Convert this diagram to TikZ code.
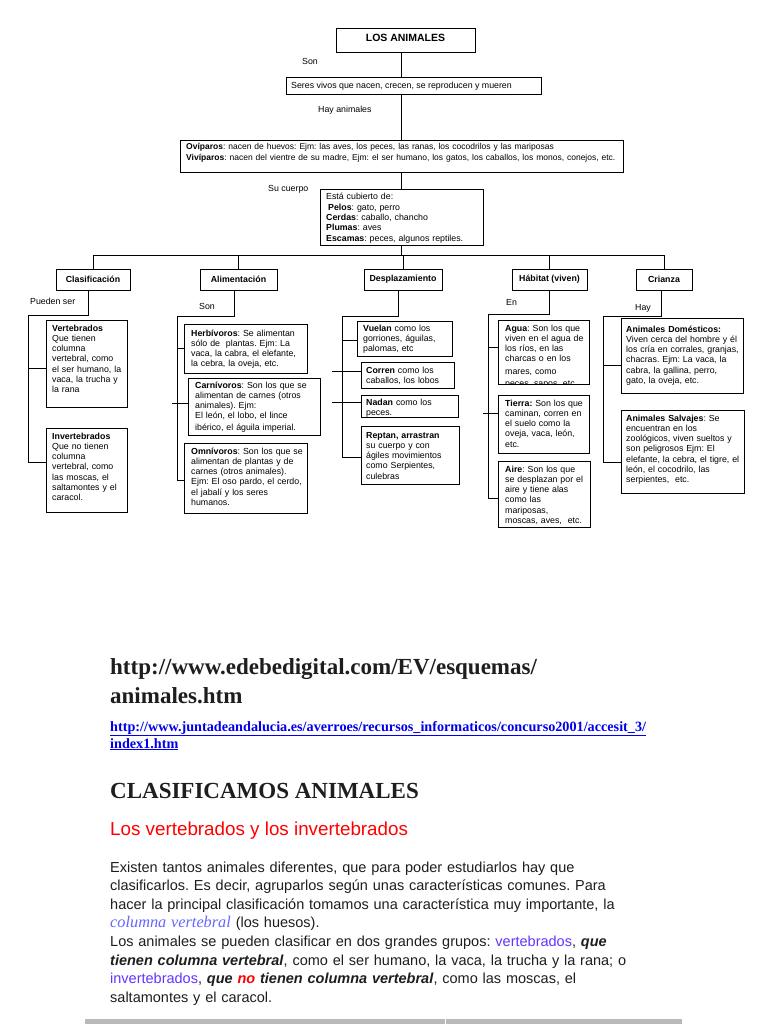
\documentclass[tikz,border=0pt]{standalone}
\usepackage{fontspec}
\setmainfont{Liberation Sans}
\newfontfamily\timesf{Liberation Serif}
\definecolor{linkblue}{RGB}{0,0,238}
\definecolor{vio}{RGB}{102,51,255}
\definecolor{colv}{RGB}{102,102,255}
\definecolor{txt}{RGB}{30,30,30}
\tikzset{
 frame/.style={draw=black, line width=0.8pt, inner sep=0pt, outer sep=0pt, anchor=north west},
 hdr/.style={font=\bfseries\fontsize{8.8}{10.3}\selectfont},
 btext/.style={anchor=base west, inner sep=0pt, text width=520pt, align=left, font=\fontsize{8.8}{10.3}\selectfont},
 lbl/.style={anchor=base west, inner sep=0pt, font=\fontsize{8.8}{10.3}\selectfont},
 wire/.style={line width=0.8pt, draw=black},
}
\newcommand\abox[8]{%
 \pgfmathsetmacro\bw{#4-#2}\pgfmathsetmacro\bh{#5-#3}%
 \node[frame, minimum width=\bw pt, minimum height=\bh pt] (#1) at (#2,#3) {};
 \node[btext] (#1t) at (#6,#7) {#8};}
\begin{document}
\frenchspacing
\begin{tikzpicture}[x=1pt,y=-1pt]
\useasboundingbox[fill=white] (0,0) rectangle (768,1024);
% ---- top chain
\node[frame, minimum width=139pt, minimum height=24pt] (title) at (336,28) {};
\node[anchor=base, inner sep=0pt, font=\bfseries\fontsize{10.5}{12}\selectfont] (titlet) at (405.5,42) {LOS ANIMALES};
\node[lbl] (son1) at (302,65) {Son};
\node[frame, minimum width=255pt, minimum height=17pt] (seres) at (286,77) {};
\node[lbl] (serest) at (291,88.5) {Seres vivos que nacen, crecen, se reproducen y mueren};
\node[lbl] (hay1) at (318,113) {Hay animales};
\abox{ovi}{180}{140}{623}{172}{186}{150}{\fontsize{8.5}{10.6}\selectfont\textbf{Ovíparos}: nacen de huevos: Ejm: las aves, los peces, las ranas, los cocodrilos y las mariposas\\\textbf{Vivíparos}: nacen del vientre de su madre, Ejm: el ser humano, los gatos, los caballos, los monos, conejos, etc.}
\node[lbl] (cuerpo) at (268,192) {Su cuerpo};
\abox{esta}{320}{189}{483}{245}{326}{200}{Está cubierto de:\\\hspace*{2pt}\textbf{Pelos}: gato, perro\\\textbf{Cerdas}: caballo, chancho\\\textbf{Plumas}: aves\\\textbf{Escamas}: peces, algunos reptiles.}
\coordinate (trunk) at (401,0);
\coordinate (bus) at (0,255);
\draw[wire] (title.south -| trunk) -- (seres.north -| trunk);
\draw[wire] (seres.south -| trunk) -- (ovi.north -| trunk);
\draw[wire] (ovi.south -| trunk) -- (esta.north -| trunk);
\draw[wire] (esta.south -| trunk) -- (bus -| trunk);
% ---- headers
\node[frame, hdr, minimum width=74pt, minimum height=21pt] (clas) at (56,269) {Clasificación};
\node[frame, hdr, minimum width=77pt, minimum height=21pt] (alim) at (200,269) {Alimentación};
\node[frame, hdr, minimum width=78pt, minimum height=21pt] (desp) at (364,269) {Desplazamiento};
\node[frame, hdr, minimum width=75pt, minimum height=21pt] (hab) at (512,269) {Hábitat (viven)};
\node[frame, hdr, minimum width=56pt, minimum height=21pt] (cri) at (636,269) {Crianza};
\draw[wire] (clas.north) -- (clas.north |- bus) -- (cri.north |- bus) -- (cri.north);
\foreach \n in {alim,desp,hab} \draw[wire] (\n.north) -- (\n.north |- bus);
% ---- labels
\node[lbl] (pueden) at (30,304) {Pueden ser};
\node[lbl] (son2) at (199,309) {Son};
\node[lbl] (en) at (506,305) {En};
\node[lbl] (hay2) at (635,310) {Hay};
% ---- Clasificacion
\abox{vert}{46}{320}{127}{407}{52}{331}{\textbf{Vertebrados}\\Que tienen\\columna\\vertebral, como\\el ser humano, la\\vaca, la trucha y\\la rana}
\abox{inv}{46}{428}{127}{512}{52}{439}{\textbf{Invertebrados}\\Que no tienen\\columna\\vertebral, como\\las moscas, el\\saltamontes y el\\caracol.}
\coordinate (clasx) at (88,0);
\coordinate (clasL) at (28,315);
\draw[wire] (clas.south -| clasx) |- (clasL) |- ([yshift=8pt]inv.west);
\draw[wire] ([yshift=-4.5pt]vert.west -| clasL) -- ([yshift=-4.5pt]vert.west);
% ---- Alimentacion
\abox{herb}{184}{324}{307}{373}{191}{336}{\textbf{Herbívoros}: Se alimentan\\sólo de\ \ plantas. Ejm: La\\vaca, la cabra, el elefante,\\la cebra, la oveja, etc.}
\abox{carn}{188}{378}{320}{435}{195}{388}{\textbf{Carnívoros}: Son los que se\\alimentan de carnes (otros\\animales). Ejm:\\El león, el lobo, el lince\\[1pt]ibérico, el águila imperial.}
\abox{omn}{184}{443}{307}{513}{191}{454}{\textbf{Omnívoros}: Son los que se\\alimentan de plantas y de\\carnes (otros animales).\\Ejm: El oso pardo, el cerdo,\\el jabalí y los seres\\humanos.}
\coordinate (alimx) at (234,0);
\coordinate (alimL) at (177,316);
\draw[wire] (alim.south -| alimx) |- (alimL) |- ([yshift=-2pt]omn.west);
\draw[wire] (herb.west -| alimL) -- (herb.west);
\draw[wire] ([xshift=-16pt,yshift=3.5pt]carn.west) -- ([yshift=3.5pt]carn.west);
% ---- Desplazamiento
\abox{vuel}{357}{321}{452}{356}{363}{331}{\textbf{Vuelan} como los\\gorriones, águilas,\\palomas, etc}
\abox{corr}{361}{362}{454}{388}{366}{373}{\textbf{Corren} como los\\caballos, los lobos}
\abox{nad}{361}{395}{458}{417}{366}{405}{\textbf{Nadan} como los\\peces.}
\abox{rep}{361}{426}{459}{484}{366}{438}{\textbf{Reptan, arrastran}\\su cuerpo y con\\ágiles movimientos\\como Serpientes,\\culebras}
\coordinate (despx) at (398,0);
\coordinate (despL) at (342,316);
\draw[wire] (desp.south -| despx) |- (despL) |- ([yshift=-2pt]rep.west);
\draw[wire] ([yshift=-1.5pt]vuel.west -| despL) -- ([yshift=-1.5pt]vuel.west);
\draw[wire] ([xshift=-29pt,yshift=4pt]corr.west) -- ([yshift=4pt]corr.west);
\draw[wire] ([xshift=-29pt,yshift=4pt]nad.west) -- ([yshift=4pt]nad.west);
% ---- Habitat
\node[frame, minimum width=91pt, minimum height=64pt] (agua) at (498,320) {};
\begin{scope}
\clip (498,320) rectangle (589,384);
\node[btext] (aguat) at (505,331) {\textbf{Agua}: Son los que\\viven en el agua de\\los ríos, en las\\charcas o en los\\[2pt]mares, como\\[2pt]peces, sapos, etc};
\end{scope}
\abox{tie}{498}{395}{589}{453}{505}{406}{\textbf{Tierra:} Son los que\\caminan, corren en\\el suelo como la\\oveja, vaca, león,\\etc.}
\abox{aire}{498}{461}{590}{527}{505}{472}{\textbf{Aire}: Son los que\\se desplazan por el\\aire y tiene alas\\como las\\mariposas,\\moscas, aves,\ \ etc.}
\coordinate (habx) at (549,0);
\coordinate (habL) at (488,314);
\draw[wire] (hab.south -| habx) |- (habL) |- ([yshift=-4pt]aire.west);
\draw[wire] ([yshift=5pt]agua.west -| habL) -- ([yshift=5pt]agua.west);
\draw[wire] ([xshift=-15pt,yshift=11pt]tie.west) -- ([yshift=11pt]tie.west);
% ---- Crianza
\abox{dom}{621}{318}{743}{393}{626}{332}{\textbf{Animales Domésticos:}\\Viven cerca del hombre y él\\los cría en corrales, granjas,\\chacras. Ejm: La vaca, la\\cabra, la gallina, perro,\\gato, la oveja, etc.}
\abox{sal}{621}{410}{744}{493}{626}{421}{\textbf{Animales Salvajes}: Se\\encuentran en los\\zoológicos, viven sueltos y\\son peligrosos Ejm: El\\elefante, la cebra, el tigre, el\\león, el cocodrilo, las\\serpientes,\ \ etc.}
\coordinate (crix) at (661,0);
\coordinate (criL) at (603,316);
\draw[wire] (cri.south -| crix) |- (criL) |- ([yshift=-10.5pt]sal.west);
\draw[wire] ([yshift=-9.5pt]dom.west -| criL) -- ([yshift=-9.5pt]dom.west);
% ---- lower text
\node[anchor=base west, inner sep=0pt, text width=600pt, align=left, font=\timesf\bfseries\fontsize{23}{29}\selectfont, text=txt] (url) at (110,674) {http://www.edebedigital.com/EV/esquemas/\\animales.htm};
\node[anchor=base west, inner sep=0pt, text width=600pt, align=left, font=\timesf\bfseries\fontsize{14.2}{17}\selectfont, text=linkblue] (link) at (110,731) {\underline{http://www.juntadeandalucia.es/averroes/recursos\_informaticos/concurso2001/accesit\_3/}\\\underline{index1.htm}};
\node[anchor=base west, inner sep=0pt, font=\timesf\bfseries\fontsize{23}{29}\selectfont, text=txt] (clasif) at (110,798) {CLASIFICAMOS ANIMALES};
\node[anchor=base west, inner sep=0pt, font=\fontsize{18.8}{22}\selectfont, text=red] (vyi) at (110,835) {Los vertebrados y los invertebrados};
\node[anchor=base west, inner sep=0pt, text width=600pt, align=left, font=\fontsize{14.5}{18.6}\selectfont, text=txt] (para) at (110,872) {Existen tantos animales diferentes, que para poder estudiarlos hay que\\clasificarlos. Es decir, agruparlos según unas características comunes. Para\\hacer la principal clasificación tomamos una característica muy importante, la\\{\timesf\itshape\fontsize{16.3}{18.6}\selectfont\color{colv}columna vertebral} (los huesos).\\Los animales se pueden clasificar en dos grandes grupos: {\color{vio}vertebrados}, \textbf{\textit{que}}\\\textbf{\textit{tienen columna vertebral}}, como el ser humano, la vaca, la trucha y la rana; o\\{\color{vio}invertebrados}, \textbf{\textit{que {\color{red}no} tienen columna vertebral}}, como las moscas, el\\saltamontes y el caracol.};
\fill[gray!55] (85,1019) rectangle (682,1024);
\draw[white, line width=1pt] (445,1019) -- (445,1024);
\end{tikzpicture}
\end{document}
